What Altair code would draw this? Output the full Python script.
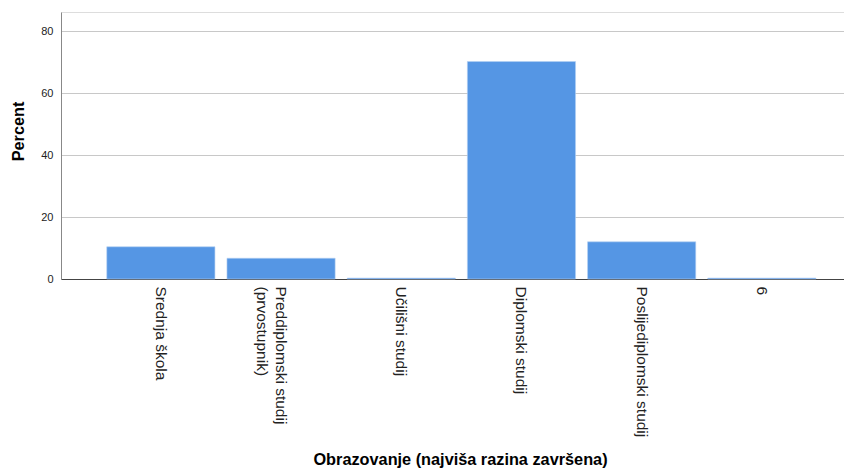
import altair as alt
import pandas as pd

categories = ["Srednja škola", "Preddiplomski studij|(prvostupnik)", "Učilišni studij",
              "Diplomski studij", "Poslijediplomski studij", "6"]
percent = [10.4, 6.7, 0.3, 70.2, 12.0, 0.3]

df = pd.DataFrame({"cat": categories, "pct": percent})

FONT = "Liberation Sans"

chart = alt.Chart(df).mark_bar(
    color="#5596e4", stroke="#b5d0f2", strokeWidth=0.6
).encode(
    x=alt.X("cat:N", sort=categories,
            scale=alt.Scale(paddingInner=0.1, paddingOuter=0.307, align=0.62),
            axis=alt.Axis(title="Obrazovanje (najviša razina završena)",
                          labelAngle=90, labelAlign="left", labelBaseline="middle",
                          labelExpr="split(datum.label, '|')",
                          labelLineHeight=19,
                          labelFontSize=15.5, labelFont=FONT, labelColor="#222",
                          labelPadding=7, ticks=False, labelLimit=300,
                          domainColor="#444", domainWidth=1.2,
                          titleFont=FONT, titleFontSize=16.3, titleFontWeight="bold",
                          titleColor="#000", titleBaseline="alphabetic",
                          titleX=399, titleY=185, titleAnchor="middle")),
    y=alt.Y("pct:Q", scale=alt.Scale(domain=[0, 86.2], nice=False),
            axis=alt.Axis(title="Percent", values=[0, 20, 40, 60, 80],
                          grid=True, gridColor="#c8c8c8", gridWidth=1,
                          ticks=False, labelPadding=8,
                          labelFont=FONT, labelFontSize=11, labelColor="#222",
                          domainColor="#888", domainWidth=1,
                          titleFont=FONT, titleFontSize=16.3, titleFontWeight="bold",
                          titleColor="#000", titleX=-35, titleY=119,
                          titleAnchor="middle")),
).properties(
    width=783, height=267,
    autosize=alt.AutoSizeParams(type="none"),
    padding={"left": 53, "top": 4, "right": 0, "bottom": 189},
).configure_view(stroke=None).configure(background="white")

chart.save("out.html", embed_options={"renderer": "svg", "actions": False})
